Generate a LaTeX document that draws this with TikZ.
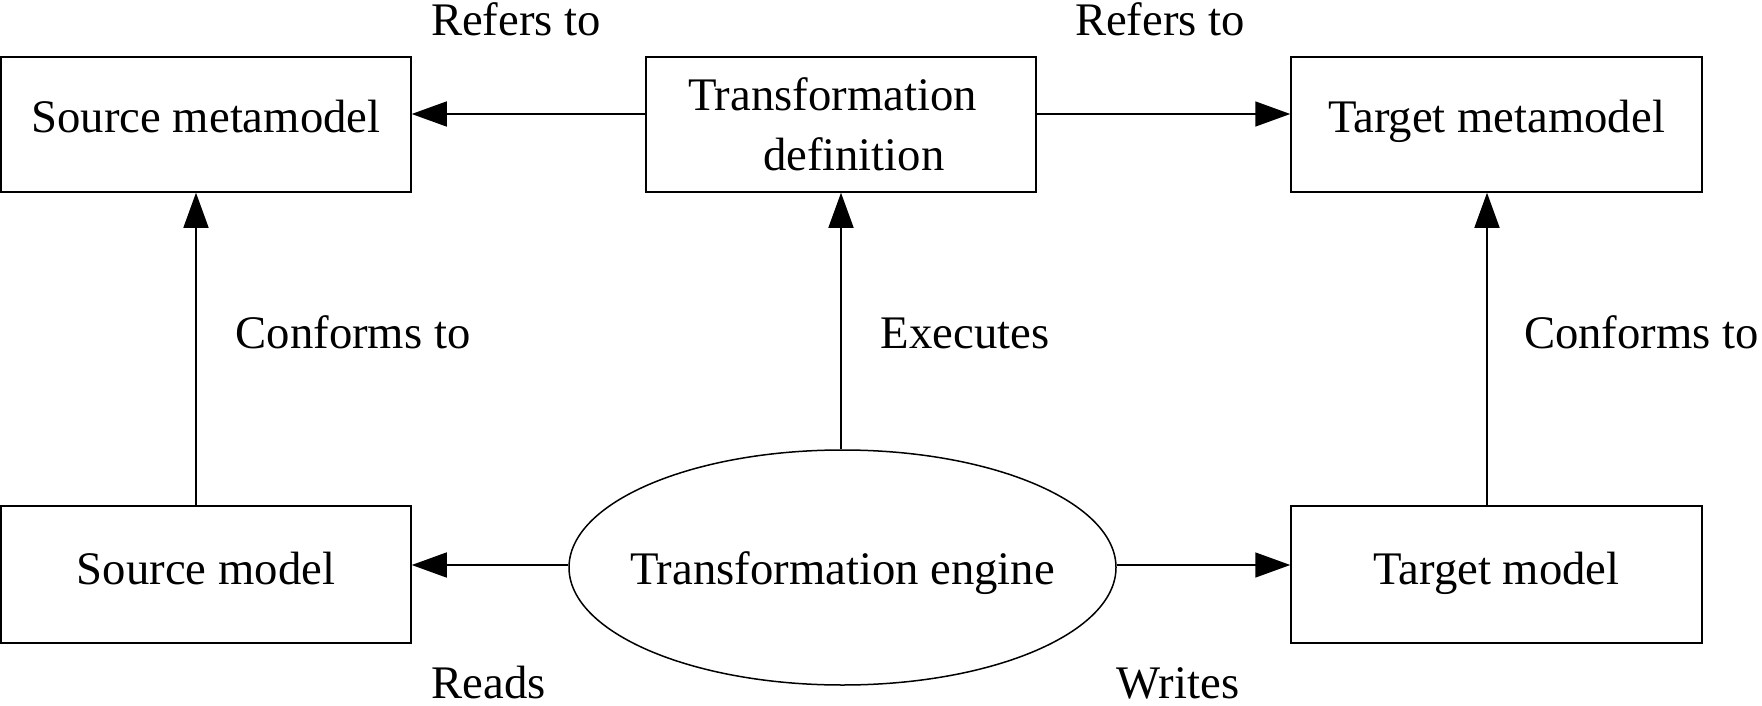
\documentclass[tikz,border=0pt]{standalone}
\usepackage{fontspec}
\setmainfont{Liberation Serif}
\usetikzlibrary{arrows.meta,shapes.geometric}
\begin{document}
\begin{tikzpicture}[x=1pt,y=-1pt,
  every node/.style={font=\fontsize{46.7pt}{60pt}\selectfont},
  frame/.style={draw,line width=1.5pt,rectangle},
  topbox/.style={frame,inner sep=0pt,minimum width=410pt,minimum height=135pt,text height=31pt,text depth=14pt},
  botbox/.style={frame,inner sep=0pt,minimum width=410pt,minimum height=137pt,text height=32pt,text depth=13pt},
  lbl/.style={anchor=base,inner sep=0pt},
  arr/.style={line width=1.5pt,-{Triangle[length=35pt,width=25pt]}}]
\useasboundingbox (0,0) rectangle (1762,706);
% boxes
\node[topbox] (smm) at (206,124.5) {Source metamodel};
\node[frame,minimum width=390pt,minimum height=135pt,inner xsep=42pt,inner ysep=0pt,text width=306pt,align=left] (td) at (841,124.5) {Transformation\\\hspace*{75pt}definition};
\node[topbox,minimum width=411pt] (tmm) at (1496.5,124.5) {Target metamodel};
\node[botbox] (sm) at (206,574.5) {Source model};
\node[botbox,minimum width=411pt] (tm) at (1496.5,574.5) {Target model};
\node[draw,ellipse,line width=1.5pt,inner sep=0pt,minimum width=547pt,minimum height=235pt,text height=33pt,text depth=0pt] (te) at (842.5,567.5) {\makebox[0pt]{Transformation engine}};
% labels
\node[lbl] (r1) at (516,36) {Refers to};
\node[lbl] (r2) at (1160,36) {Refers to};
\node[lbl] (c1) at (353,348) {Conforms to};
\node[lbl] (ex) at (965,348) {Executes};
\node[lbl] (c2) at (1641.5,348) {Conforms to};
\node[lbl] (rd) at (488.5,698) {Reads};
\node[lbl] (wr) at (1178,698) {Writes};
% connectors
\coordinate (tdw) at ([yshift=10.5pt]td.west);
\coordinate (tde) at ([yshift=10.5pt]td.east);
\coordinate (tw) at ([yshift=2.5pt]te.west);
\coordinate (tev) at ([yshift=2.5pt]te.east);
\draw[arr] (tdw) -- (tdw -| smm.east);
\draw[arr] (tde) -- (tde -| tmm.west);
\draw[arr] ([xshift=-10pt]sm.north) -- ([xshift=-10pt]smm.south);
\draw[arr] (td.south |- te.north) -- (td.south);
\draw[arr] ([xshift=-9.5pt]tm.north) -- ([xshift=-9.5pt]tmm.south);
\draw[arr] (tw) -- (tw -| sm.east);
\draw[arr] (tev) -- (tev -| tm.west);
\end{tikzpicture}
\end{document}
